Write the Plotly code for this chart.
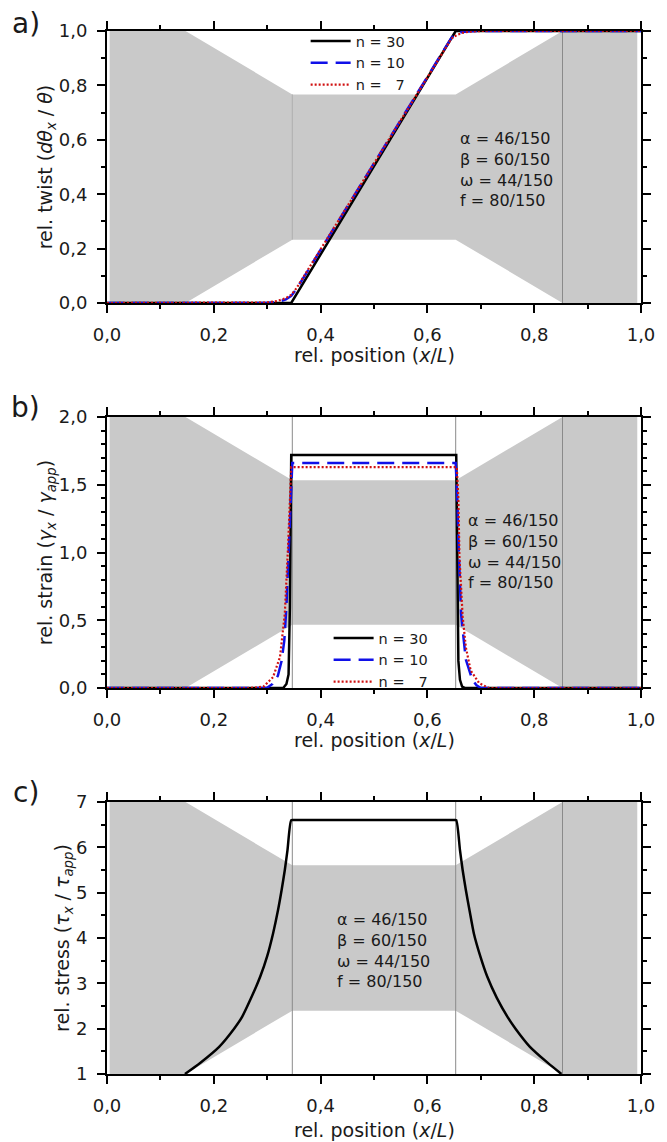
import plotly.graph_objects as go

# ---------------- data ----------------
# specimen silhouette (x position, fraction of panel height)
spec_x = [0.005, 0.147, 0.347, 0.653, 0.853, 0.993, 0.993, 0.853, 0.653, 0.347, 0.147, 0.005]
spec_frac = [1.0, 1.0, 0.767, 0.767, 1.0, 1.0, 0.0, 0.0, 0.233, 0.233, 0.0, 0.0]
guide_x_a = [0.853]
guide_x_bc = [0.347, 0.653, 0.853]
inner_guide_a_x = 0.347
inner_guide_a_frac = [0.233, 0.767]

legend_names = ["n = 30", "n = 10", "n = \u00a0\u00a07"]

# a) relative twist
twist_n30_x = [0.0, 0.345, 0.653, 1.0]
twist_n30_y = [0.0, 0.0, 1.0, 1.0]
twist_n10_x = [0.0, 0.300, 0.320, 0.335, 0.345, 0.355, 0.645, 0.655, 0.665, 0.680, 0.700, 1.0]
twist_n10_y = [0.0, 0.0, 0.004, 0.013, 0.026, 0.052, 0.975, 0.990, 0.996, 0.999, 1.0, 1.0]
twist_n7_x = [0.0, 0.280, 0.300, 0.320, 0.335, 0.345, 0.355, 0.645, 0.655, 0.665, 0.680, 0.700, 0.715, 1.0]
twist_n7_y = [0.0, 0.0, 0.002, 0.008, 0.018, 0.030, 0.055, 0.972, 0.985, 0.993, 0.998, 1.0, 1.0, 1.0]

# b) relative strain
strain_n30_x = [0.0, 0.330, 0.336, 0.340, 0.3425, 0.344, 0.345, 0.654, 0.656, 0.658, 0.661, 0.665, 0.670, 1.0]
strain_n30_y = [0.0, 0.0, 0.03, 0.10, 0.60, 1.50, 1.72, 1.72, 0.60, 0.20, 0.06, 0.01, 0.0, 0.0]
strain_n10_x = [0.0, 0.299, 0.310, 0.320, 0.327, 0.332, 0.336, 0.339, 0.342, 0.344, 0.347,
                0.653, 0.656, 0.658, 0.660, 0.663, 0.666, 0.672, 0.684, 0.692, 0.700, 1.0]
strain_n10_y = [0.0, 0.0, 0.03, 0.09, 0.20, 0.35, 0.60, 0.90, 1.20, 1.50, 1.66,
                1.66, 1.40, 1.10, 0.80, 0.55, 0.43, 0.21, 0.06, 0.02, 0.0, 0.0]
strain_n7_x = [0.0, 0.268, 0.293, 0.311, 0.324, 0.333, 0.339, 0.342, 0.345,
               0.655, 0.658, 0.660, 0.666, 0.672, 0.681, 0.697, 0.715, 1.0]
strain_n7_y = [0.0, 0.0, 0.01, 0.08, 0.23, 0.55, 1.04, 1.41, 1.63,
               1.63, 1.40, 0.97, 0.53, 0.30, 0.13, 0.035, 0.0, 0.0]

# c) relative stress
stress_x = [0.146, 0.175, 0.210, 0.238, 0.253, 0.270, 0.287, 0.300, 0.311, 0.320, 0.327, 0.333, 0.338, 0.345, 0.350,
            0.650, 0.654, 0.661, 0.666, 0.672, 0.679, 0.687, 0.699, 0.712, 0.730, 0.750, 0.765, 0.792, 0.825, 0.851]
stress_y = [1.0, 1.25, 1.60, 2.0, 2.26, 2.68, 3.15, 3.6, 4.10, 4.6, 5.06, 5.5, 5.94, 6.60, 6.60,
            6.60, 6.60, 5.94, 5.5, 5.06, 4.6, 4.10, 3.6, 3.15, 2.68, 2.26, 2.0, 1.60, 1.25, 1.0]

params_text = "\u03b1 = 46/150<br>\u03b2 = 60/150<br>\u03c9 = 44/150<br>f = 80/150"
x_title = "rel. position (<i>x</i>/<i>L</i>)"

# ---------------- styling ----------------
FONT = "DejaVu Sans"
GREY = "#c9c9c9"
GUIDE = "#8a8a8a"
styles = [dict(color="black", width=2.5, dash="solid"),
          dict(color="#1010e8", width=2.5, dash="17px,8px"),
          dict(color="#d01010", width=2.2, dash="2px,2px")]

ranges = {"a": (0.0, 1.0), "b": (0.0, 2.0), "c": (1.0, 7.0)}
axes = {"a": ("x", "y"), "b": ("x2", "y2"), "c": ("x3", "y3")}

fig = go.Figure()

def add_specimen(panel):
    lo, hi = ranges[panel]
    xa, ya = axes[panel]
    fig.add_trace(go.Scatter(x=spec_x, y=[lo + f * (hi - lo) for f in spec_frac],
                             fill="toself", fillcolor=GREY, mode="lines",
                             line=dict(width=0, color=GREY), hoverinfo="skip",
                             showlegend=False, xaxis=xa, yaxis=ya))

def add_guides(panel, gx_list):
    lo, hi = ranges[panel]
    xa, ya = axes[panel]
    for gx in gx_list:
        fig.add_trace(go.Scatter(x=[gx, gx], y=[lo, hi], mode="lines",
                                 line=dict(width=1, color=GUIDE), hoverinfo="skip",
                                 showlegend=False, xaxis=xa, yaxis=ya))

# panel a
add_specimen("a")
add_guides("a", guide_x_a)
fig.add_trace(go.Scatter(x=[inner_guide_a_x, inner_guide_a_x], y=inner_guide_a_frac, mode="lines",
                         line=dict(width=1, color="#b0b0b0"), hoverinfo="skip",
                         showlegend=False, xaxis="x", yaxis="y"))
for (xs, ys), name, st in zip([(twist_n30_x, twist_n30_y), (twist_n10_x, twist_n10_y),
                               (twist_n7_x, twist_n7_y)], legend_names, styles):
    fig.add_trace(go.Scatter(x=xs, y=ys, mode="lines", name=name, line=st,
                             xaxis="x", yaxis="y", legend="legend"))

# panel b
add_specimen("b")
add_guides("b", guide_x_bc)
for (xs, ys), name, st in zip([(strain_n30_x, strain_n30_y), (strain_n10_x, strain_n10_y),
                               (strain_n7_x, strain_n7_y)], legend_names, styles):
    fig.add_trace(go.Scatter(x=xs, y=ys, mode="lines", name=name, line=st,
                             xaxis="x2", yaxis="y2", legend="legend2"))

# panel c
add_specimen("c")
add_guides("c", guide_x_bc)
fig.add_trace(go.Scatter(x=stress_x, y=stress_y, mode="lines",
                         line=dict(color="black", width=2.5, shape="spline", smoothing=0.6),
                         showlegend=False, xaxis="x3", yaxis="y3"))

def xaxis_cfg(anchor):
    return dict(domain=[0, 1], anchor=anchor, range=[0, 1], tick0=0, dtick=0.2,
                tickformat=".1f", ticks="outside", ticklen=8, tickwidth=1.5,
                tickcolor="black", ticklabelstandoff=6,
                minor=dict(dtick=0.1, ticklen=4, ticks="outside", tickwidth=1.5, tickcolor="black"),
                showline=True, linewidth=2, linecolor="black", mirror="ticks",
                showgrid=False, zeroline=False, tickfont=dict(size=18))

def yaxis_cfg(anchor, domain, rng, dtick, minor, fmt, title):
    return dict(domain=domain, anchor=anchor, range=list(rng), tick0=rng[0], dtick=dtick,
                tickformat=fmt, ticks="outside", ticklen=8, tickwidth=1.5, tickcolor="black",
                ticklabelstandoff=6,
                minor=dict(dtick=minor, ticklen=4, ticks="outside", tickwidth=1.5, tickcolor="black"),
                showline=True, linewidth=2, linecolor="black", mirror="ticks",
                showgrid=False, zeroline=False, tickfont=dict(size=18),
                title=dict(text=title, font=dict(size=19), standoff=0))

legend_common = dict(bgcolor="rgba(0,0,0,0)", borderwidth=0, font=dict(size=14.5),
                     xanchor="left", yanchor="top", itemwidth=40, tracegroupgap=0)

fig.update_layout(
    width=667, height=1142,
    margin=dict(l=107, r=15, t=31, b=68),
    paper_bgcolor="white", plot_bgcolor="white",
    font=dict(family=FONT, color="#1a1a1a"),
    separators=",.",
    xaxis=xaxis_cfg("y"), xaxis2=xaxis_cfg("y2"), xaxis3=xaxis_cfg("y3"),
    yaxis=yaxis_cfg("x", [0.7392, 1.0], ranges["a"], 0.2, 0.1, ".1f",
                    "rel. twist (<i>d\u03b8<sub>x</sub></i> / <i>\u03b8</i>)"),
    yaxis2=yaxis_cfg("x2", [0.3701, 0.6299], ranges["b"], 0.5, 0.1, ".1f",
                     "rel. strain (<i>\u03b3<sub>x</sub></i> / <i>\u03b3<sub>app</sub></i>)"),
    yaxis3=yaxis_cfg("x3", [0.0, 0.2608], ranges["c"], 1, 0.5, "d",
                     "rel. stress (<i>\u03c4<sub>x</sub></i> / <i>\u03c4<sub>app</sub></i>)"),
    legend=dict(x=0.372, y=1.0058, **legend_common),
    legend2=dict(x=0.415, y=0.4334, **legend_common),
    showlegend=True,
)

# x-axis titles
for py in [355, 740, 1130]:
    fig.add_annotation(x=0.501, y=(1074 - py) / 1043, xref="paper", yref="paper",
                       text=x_title, showarrow=False, xanchor="center", yanchor="middle",
                       font=dict(size=19, color="#1a1a1a"))

# parameter text blocks
for xref, yref, xv, yv in [("x", "y", 0.657, 0.49), ("x2", "y2", 0.672, 1.011), ("x3", "y3", 0.4275, 3.72)]:
    fig.add_annotation(x=xv, y=yv, xref=xref, yref=yref, text=params_text, showarrow=False,
                       xanchor="left", yanchor="middle", align="left",
                       font=dict(size=16, color="#1a1a1a"))

# panel labels
for lbl, py in [("a)", 24), ("b)", 407), ("c)", 793)]:
    fig.add_annotation(x=-83 / 545, y=(1074 - py) / 1043, xref="paper", yref="paper",
                       text=lbl, showarrow=False, xanchor="center", yanchor="middle",
                       font=dict(size=28, color="#1a1a1a"))

fig.write_html("out.html")
